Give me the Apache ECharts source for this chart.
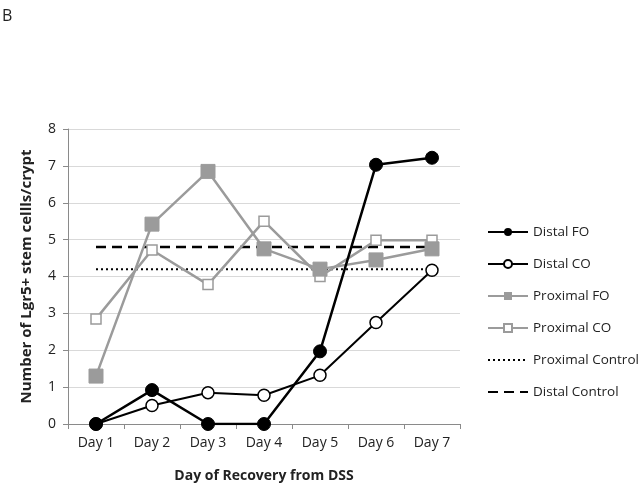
<!DOCTYPE html>
<html><head><meta charset="utf-8">
<script src="https://cdn.jsdelivr.net/npm/echarts@6/dist/echarts.min.js"></script>
<style>html,body{margin:0;padding:0;background:#fff}#c{width:644px;height:490px}</style>
</head><body><div id="c"></div>
<script>
const categories = ['Day 1','Day 2','Day 3','Day 4','Day 5','Day 6','Day 7'];
const distalFO = [0, 0.92, 0, 0, 1.97, 7.03, 7.22];
const distalCO = [0, 0.5, 0.85, 0.78, 1.32, 2.75, 4.17];
const proximalFO = [1.3, 5.42, 6.85, 4.75, 4.2, 4.45, 4.75];
const proximalCO = [2.85, 4.72, 3.78, 5.5, 4.0, 4.98, 4.98];
const proximalControl = [4.2, 4.2, 4.2, 4.2, 4.2, 4.2, 4.2];
const distalControl = [4.8, 4.8, 4.8, 4.8, 4.8, 4.8, 4.8];

const FONT = '"Open Sans", "Liberation Sans", sans-serif';
const GRAY = '#9b9b9b';
const hidden = {color: 'rgba(0,0,0,0)', borderWidth: 0, opacity: 0};
const chart = echarts.init(document.getElementById('c'), null, {renderer: 'canvas'});
chart.setOption({
  animation: false,
  backgroundColor: '#fff',
  textStyle: {fontFamily: FONT},
  graphic: [{type: 'text', left: 2, top: 8, style: {text: 'B', font: '16px ' + FONT, fill: '#222'}}],
  grid: {left: 68, right: 184, top: 129, bottom: 66},
  legend: {
    orient: 'vertical', left: 482, top: 217,
    itemWidth: 40, itemHeight: 10, itemGap: 12,
    textStyle: {fontFamily: FONT, fontSize: 13.5, color: '#222', lineHeight: 20, height: 20},
    data: ['Distal FO','Distal CO','Proximal FO','Proximal CO',
      {name: 'Proximal Control', itemStyle: hidden},
      {name: 'Distal Control', itemStyle: hidden}]
  },
  xAxis: {
    type: 'category', data: categories, boundaryGap: true,
    axisLine: {lineStyle: {color: '#8a8a8a', width: 1}},
    axisTick: {show: true, length: 5, lineStyle: {color: '#8a8a8a'}},
    axisLabel: {fontFamily: FONT, fontSize: 14, color: '#222', margin: 12},
    name: 'Day of Recovery from DSS', nameLocation: 'middle', nameGap: 45,
    nameTextStyle: {fontFamily: FONT, fontSize: 14, fontWeight: 'bold', color: '#222'}
  },
  yAxis: {
    type: 'value', min: 0, max: 8, interval: 1,
    axisLine: {show: true, lineStyle: {color: '#8a8a8a'}},
    axisTick: {show: true, length: 5, inside: false, lineStyle: {color: '#8a8a8a'}},
    splitLine: {lineStyle: {color: '#d9d9d9', width: 1}},
    axisLabel: {fontFamily: FONT, fontSize: 14, color: '#222', margin: 12},
    name: 'Number of Lgr5+ stem cellls/crypt', nameLocation: 'middle', nameGap: 34,
    nameTextStyle: {fontFamily: FONT, fontSize: 15, fontWeight: 'bold', color: '#222'}
  },
  series: [
    {name: 'Proximal Control', type: 'line', data: proximalControl, symbol: 'none',
     lineStyle: {color: '#000', width: 2, type: [2, 3]}, itemStyle: {color: '#000'}, z: 2},
    {name: 'Distal Control', type: 'line', data: distalControl, symbol: 'none',
     lineStyle: {color: '#000', width: 2.5, type: [10, 6]}, itemStyle: {color: '#000'}, z: 2},
    {name: 'Proximal CO', type: 'line', data: proximalCO, symbol: 'rect', symbolSize: 10,
     lineStyle: {color: GRAY, width: 2.5}, itemStyle: {color: '#fff', borderColor: GRAY, borderWidth: 1.5}, z: 3},
    {name: 'Proximal FO', type: 'line', data: proximalFO, symbol: 'rect', symbolSize: 14,
     lineStyle: {color: GRAY, width: 2.5}, itemStyle: {color: GRAY, borderColor: GRAY}, z: 4},
    {name: 'Distal CO', type: 'line', data: distalCO, symbol: 'circle', symbolSize: 12,
     lineStyle: {color: '#000', width: 2}, itemStyle: {color: '#fff', borderColor: '#000', borderWidth: 1.5}, z: 5},
    {name: 'Distal FO', type: 'line', data: distalFO, symbol: 'circle', symbolSize: 13,
     lineStyle: {color: '#000', width: 2.5}, itemStyle: {color: '#000', borderColor: '#000'}, z: 6}
  ]
});
</script></body></html>
